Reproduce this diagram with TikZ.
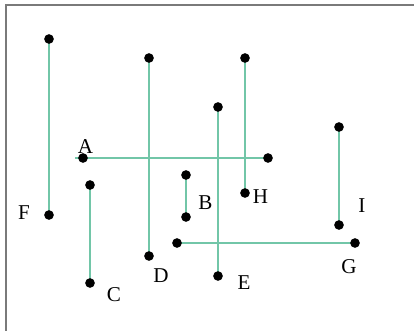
\documentclass[tikz,border=0pt]{standalone}
\usepackage{fontspec}
\setmainfont{Liberation Serif}
\usepackage{tikz}
\usetikzlibrary{calc}
\definecolor{sgreen}{HTML}{72C6A8}
\definecolor{sframe}{HTML}{7A7A7A}
\tikzset{
  seg/.style={sgreen, line width=0.9pt},
  pt/.style={circle, fill=black, inner sep=0pt, minimum size=0.29cm},
  lbl/.style={font=\fontsize{18}{20}\selectfont, inner sep=0pt},
}

\begin{document}
\begin{tikzpicture}[x=0.03cm, y=-0.03cm]
\useasboundingbox (0,0) rectangle (414,330);
\draw[sframe, line width=1.2pt] (6,340) -- (6,5) -- (420,5);
% segment end points
\coordinate (f1) at (49,39);   \coordinate (f2) at (49,215);
\coordinate (d1) at (149,58);  \coordinate (d2) at (149,256);
\coordinate (h1) at (245,58);  \coordinate (h2) at (245,193);
\coordinate (e1) at (218,107); \coordinate (e2) at (218,276);
\coordinate (i1) at (339,127); \coordinate (i2) at (339,225);
\coordinate (a0) at (75,158);
\coordinate (a1) at (83,158);  \coordinate (a2) at (268,158);
\coordinate (b1) at (186,175); \coordinate (b2) at (186,217);
\coordinate (c1) at (90,185);  \coordinate (c2) at (90,283);
\coordinate (g1) at (177,243); \coordinate (g2) at (355,243);
\draw[seg] (f1) -- (f2);
\draw[seg] (d1) -- (d2);
\draw[seg] (h1) -- (h2);
\draw[seg] (e1) -- (e2);
\draw[seg] (i1) -- (i2);
\draw[seg] (a0) -- (a2);
\draw[seg] (b1) -- (b2);
\draw[seg] (c1) -- (c2);
\draw[seg] (g1) -- (g2);
\foreach \p in {f1,f2,d1,d2,h1,h2,e1,e2,i1,i2,a1,a2,b1,b2,c1,c2,g1,g2}
  \node[pt] at (\p) {};
% labels
\node[lbl] (labA) at (85.5,147) {A};
\node[lbl] (labB) at (205.5,202.5) {B};
\node[lbl] (labC) at (114,295) {C};
\node[lbl] (labD) at (161,276) {D};
\node[lbl] (labE) at (244,282.5) {E};
\node[lbl] (labF) at (24,213) {F};
\node[lbl] (labG) at (349,267) {G};
\node[lbl] (labH) at (260.5,197) {H};
\node[lbl] (labI) at (362,205.5) {I};
\end{tikzpicture}
\end{document}
